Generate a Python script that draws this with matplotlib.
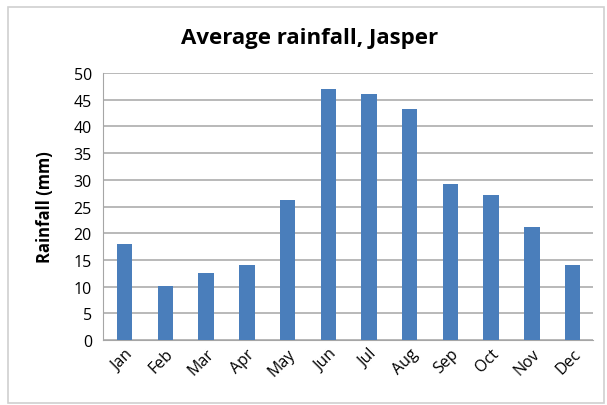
import matplotlib.pyplot as plt
import numpy as np
from matplotlib.patches import Rectangle

months = ["Jan", "Feb", "Mar", "Apr", "May", "Jun", "Jul", "Aug", "Sep", "Oct", "Nov", "Dec"]
rainfall = [18.0, 10.2, 12.5, 14.0, 26.2, 47.0, 46.1, 43.3, 29.3, 27.2, 21.2, 14.0]
yticks = [0, 5, 10, 15, 20, 25, 30, 35, 40, 45, 50]

plt.rcParams['font.family'] = ['Open Sans', 'DejaVu Sans']

fig = plt.figure(figsize=(6.07, 4.06), dpi=100)
# outer chart border
fig.patches.append(Rectangle((8/607, 2/406), 596/607, 396/406, transform=fig.transFigure,
                             fill=False, edgecolor='#d0d0d0', linewidth=1.2))

ax = fig.add_axes([103/607, 65/406, 490/607, 267/406])
x = np.arange(len(months))
ax.bar(x, rainfall, width=0.38, color='#4a7ebb', zorder=3)

ax.set_xlim(-0.53, 11.5)
ax.set_ylim(0, 50)
ax.set_yticks(yticks)
ax.set_xticks(x)
ax.set_xticklabels(months, rotation=45, ha='right', rotation_mode='anchor', fontsize=11.5)
ax.tick_params(axis='y', labelsize=11.5, length=0, pad=8)
ax.tick_params(axis='x', length=0, pad=4)
ax.grid(axis='y', color='#a6a6a6', linewidth=1.1, zorder=0)

for s in ['top', 'right']:
    ax.spines[s].set_visible(False)
ax.spines['left'].set_color('#a6a6a6')
ax.spines['bottom'].set_color('#a6a6a6')

ax.set_ylabel("Rainfall (mm)", fontsize=12, fontweight='bold', labelpad=14)
fig.text(0.51, 0.905, "Average rainfall, Jasper", ha='center', va='center',
         fontsize=16, fontweight='bold')

fig.savefig("out.png", dpi=100)
